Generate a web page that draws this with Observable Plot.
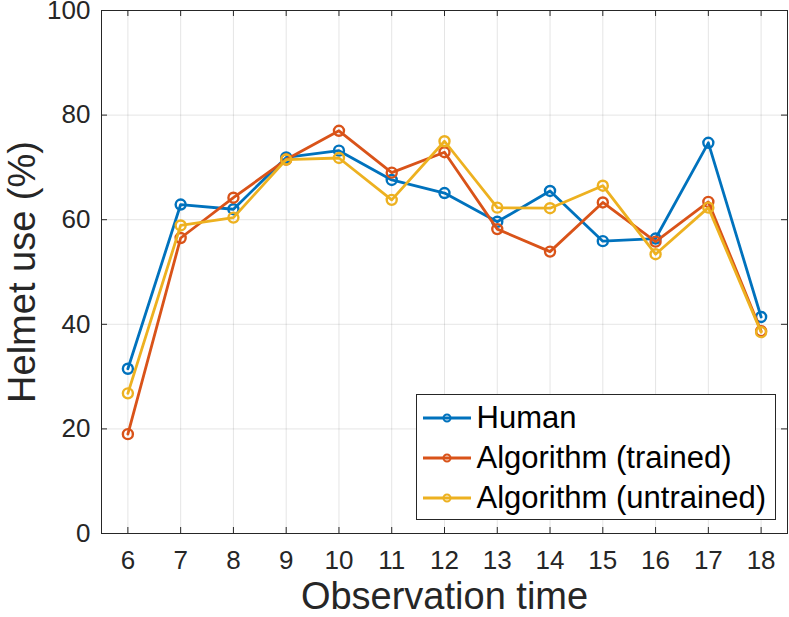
<!DOCTYPE html>
<html>
<head>
<meta charset="utf-8">
<script src="https://cdn.jsdelivr.net/npm/d3@7"></script>
<script src="https://cdn.jsdelivr.net/npm/@observablehq/plot@0.6"></script>
<style>
  html, body { margin: 0; padding: 0; background: white; }
  #wrap { position: relative; width: 789px; height: 617px; font-family: "Liberation Sans", Arial, sans-serif; color: #262626; }
  #legend { position: absolute; left: 415.5px; top: 394px; width: 360px; height: 126px; box-sizing: border-box; border: 1px solid #262626; background: white; }
  .row { position: absolute; left: 5px; height: 40px; display: flex; align-items: center; white-space: nowrap; font-size: 31px; line-height: 40px; color: #000; }
  .row svg { margin-right: 5px; }
</style>
</head>
<body>
<div id="wrap"><div id="chart"></div><div id="legend"></div></div>
<script>
// ---- data ----
const times = [6, 7, 8, 9, 10, 11, 12, 13, 14, 15, 16, 17, 18];
const human = [31.5, 62.9, 62.0, 71.9, 73.2, 67.6, 65.1, 59.6, 65.5, 55.9, 56.4, 74.7, 41.4];
const trained = [19.0, 56.5, 64.2, 71.5, 77.0, 69.0, 72.9, 58.2, 53.9, 63.3, 55.8, 63.4, 38.7];
const untrained = [26.8, 58.9, 60.4, 71.5, 71.8, 63.8, 75.0, 62.3, 62.2, 66.5, 53.4, 62.3, 38.5];
const seriesNames = ["Human", "Algorithm (trained)", "Algorithm (untrained)"];
const seriesColors = ["#0072BD", "#D95319", "#EDB120"];
const xTicks = [6, 7, 8, 9, 10, 11, 12, 13, 14, 15, 16, 17, 18];
const yTicks = [0, 20, 40, 60, 80, 100];
const xLabel = "Observation time";
const yLabel = "Helmet use (%)";

const seriesValues = [human, trained, untrained];
const data = seriesValues.flatMap((vals, si) =>
  vals.map((v, i) => ({ t: times[i], v, s: seriesNames[si] }))
);

const W = 789, H = 617, mL = 101, mR = 2, mT = 10, mB = 84;
const innerW = W - mL - mR, innerH = H - mT - mB;
const axisColor = "#262626";
const tickLen = 6;

const marks = [
  Plot.gridX(xTicks, { stroke: axisColor, strokeOpacity: 0.12 }),
  Plot.gridY(yTicks, { stroke: axisColor, strokeOpacity: 0.12 }),
  Plot.frame({ stroke: axisColor, strokeWidth: 1 }),
  Plot.tickX(xTicks, { x: d => d, insetTop: innerH - tickLen, stroke: axisColor }),
  Plot.tickX(xTicks, { x: d => d, insetBottom: innerH - tickLen, stroke: axisColor }),
  Plot.tickY(yTicks, { y: d => d, insetRight: innerW - tickLen, stroke: axisColor }),
  Plot.tickY(yTicks, { y: d => d, insetLeft: innerW - tickLen, stroke: axisColor }),
  Plot.axisX({ ticks: xTicks, tickSize: 0, tickPadding: 17, label: null, fontSize: 26, fill: axisColor }),
  Plot.axisY({ ticks: yTicks, tickSize: 0, tickPadding: 11, label: null, fontSize: 26, fill: axisColor }),
  Plot.text([yLabel], { frameAnchor: "left", textAnchor: "middle", rotate: -90, dx: -67, lineAnchor: "bottom", fontSize: 38, fill: axisColor }),
  Plot.text([xLabel], { frameAnchor: "bottom", textAnchor: "middle", dy: 75, lineAnchor: "bottom", fontSize: 38, fill: axisColor })
];
seriesNames.forEach((name, si) => {
  const d = data.filter(r => r.s === name);
  marks.push(Plot.line(d, { x: "t", y: "v", stroke: seriesColors[si], strokeWidth: 2.8 }));
  marks.push(Plot.dot(d, { x: "t", y: "v", stroke: seriesColors[si], strokeWidth: 2.4, r: 5, fill: "none" }));
});

const chart = Plot.plot({
  width: W, height: H,
  marginLeft: mL, marginRight: mR, marginTop: mT, marginBottom: mB,
  x: { domain: [5.5, 18.5], axis: null },
  y: { domain: [0, 100], axis: null },
  style: { fontFamily: "'Liberation Sans', Arial, sans-serif", background: "white", overflow: "visible" },
  marks
});
document.getElementById("chart").appendChild(chart);

// legend
const leg = document.getElementById("legend");
const rowTops = [2.5, 43, 82.5];
seriesNames.forEach((name, i) => {
  const row = document.createElement("div");
  row.className = "row";
  row.style.top = rowTops[i] + "px";
  const c = seriesColors[i];
  row.innerHTML = `<svg width="50" height="20"><line x1="1" y1="10" x2="49" y2="10" stroke="${c}" stroke-width="2.8"/><circle cx="25" cy="10" r="3.5" fill="none" stroke="${c}" stroke-width="2"/></svg><span>${name}</span>`;
  leg.appendChild(row);
});
</script>
</body>
</html>
